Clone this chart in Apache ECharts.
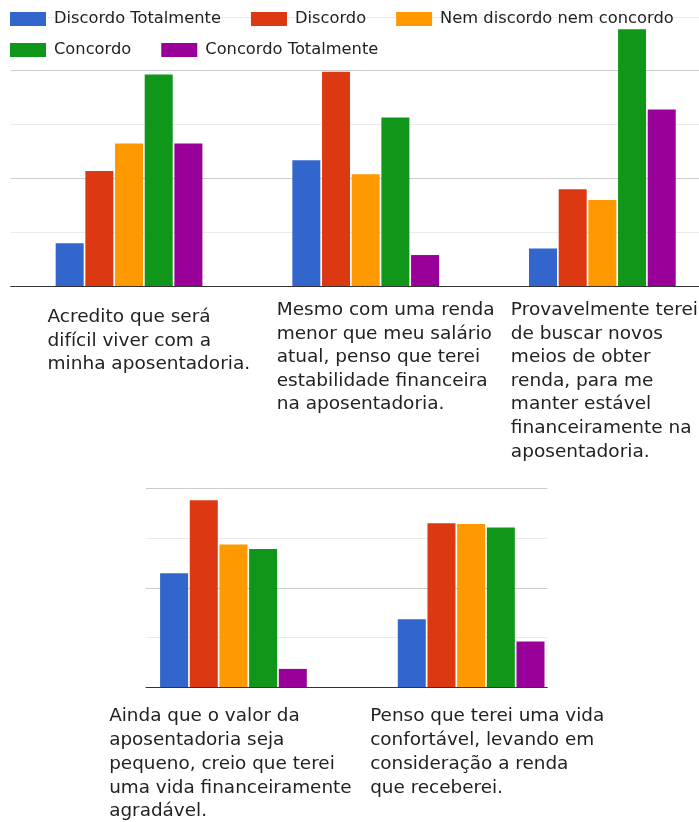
<!DOCTYPE html>
<html>
<head>
<meta charset="utf-8">
<script src="https://cdn.jsdelivr.net/npm/echarts@6/dist/echarts.min.js"></script>
<style>
  html, body { margin: 0; padding: 0; background: #fff; overflow: hidden; }
  #chart { width: 760px; height: 822px; }
</style>
</head>
<body>
<div id="chart"></div>
<script>
// ---- Data ----
var responseNames = ['Discordo Totalmente', 'Discordo', 'Nem discordo nem concordo', 'Concordo', 'Concordo Totalmente'];
var responseColors = ['#3366cc', '#dc3912', '#ff9900', '#109618', '#990099'];

var topStatements = [
  'Acredito que será\ndifícil viver com a\nminha aposentadoria.',
  'Mesmo com uma renda\nmenor que meu salário\natual, penso que terei\nestabilidade financeira\nna aposentadoria.',
  'Provavelmente terei\nde buscar novos\nmeios de obter\nrenda, para me\nmanter estável\nfinanceiramente na\naposentadoria.'
];
var bottomStatements = [
  'Ainda que o valor da\naposentadoria seja\npequeno, creio que terei\numa vida financeiramente\nagradável.',
  'Penso que terei uma vida\nconfortável, levando em\nconsideração a renda\nque receberei.'
];

// values per response, top chart (3 statements)
var topDiscordoTotalmente = [8.0, 23.4, 7.0];
var topDiscordo           = [21.4, 39.8, 18.0];
var topNem                = [26.5, 20.8, 16.0];
var topConcordo           = [39.3, 31.3, 47.7];
var topConcordoTotalmente = [26.5, 5.8, 32.8];

// values per response, bottom chart (2 statements)
var botDiscordoTotalmente = [22.9, 13.7];
var botDiscordo           = [37.6, 33.0];
var botNem                = [28.7, 32.8];
var botConcordo           = [27.8, 32.1];
var botConcordoTotalmente = [3.7, 9.2];

var topTicks = [0, 10, 20, 30, 40, 50];
var bottomTicks = [0, 10, 20, 30, 40];

// ---- Build ----
var topValues = [topDiscordoTotalmente, topDiscordo, topNem, topConcordo, topConcordoTotalmente];
var botValues = [botDiscordoTotalmente, botDiscordo, botNem, botConcordo, botConcordoTotalmente];

var FONT = 'DejaVu Sans';
var TXT = '#222';

function richFor(prefix, widths, fs, lh) {
  var r = {};
  widths.forEach(function (w, i) {
    r[prefix + i] = { width: w, align: 'left', fontSize: fs, lineHeight: lh, fontFamily: FONT, color: TXT };
  });
  return r;
}
function fmt(prefix) {
  return function (value, index) {
    return String(value).split('\n').map(function (l) { return '{' + prefix + index + '|' + l + '}'; }).join('\n');
  };
}

var topPads = [7, 0, 0];
var topAxisData = topStatements.map(function (s, i) {
  return { value: s, textStyle: { padding: [topPads[i], 0, 0, 0] } };
});

var series = [];
responseNames.forEach(function (name, i) {
  series.push({
    name: name, type: 'bar', xAxisIndex: 0, yAxisIndex: 0,
    data: topValues[i], barWidth: 28, barGap: '6%',
    itemStyle: { color: responseColors[i] }
  });
  series.push({
    name: name, type: 'bar', xAxisIndex: 1, yAxisIndex: 1,
    data: botValues[i], barWidth: 28, barGap: '6%',
    itemStyle: { color: responseColors[i] }
  });
});

var legendCommon = {
  icon: 'rect', itemWidth: 36, itemHeight: 14, itemGap: 30, padding: 0,
  textStyle: { fontFamily: FONT, fontSize: 16.3, color: TXT, padding: [0, 0, 0, 3] },
  selectedMode: false
};

var option = {
  animation: false,
  backgroundColor: '#fff',
  color: responseColors,
  legend: [
    Object.assign({}, legendCommon, { left: 10, top: 11, data: responseNames.slice(0, 3) }),
    Object.assign({}, legendCommon, { left: 10, top: 42, data: responseNames.slice(3) })
  ],
  grid: [
    { left: 10.7, top: 16.8, width: 710, height: 269.5 },
    { left: 114.6, top: 488.3, width: 475.4, height: 199 },
    { left: 146, top: 488.3, width: 401.3, height: 199 }
  ],
  xAxis: [
    {
      type: 'category', gridIndex: 0, data: topAxisData,
      axisLine: { lineStyle: { color: '#333', width: 1 } },
      axisTick: { show: false },
      axisLabel: {
        interval: 0, margin: 12, verticalAlign: 'top', align: 'center',
        formatter: fmt('t'),
        rich: richFor('t', [163, 178, 183], 18.5, 23.6)
      },
      z: 5
    },
    {
      type: 'category', gridIndex: 1, data: bottomStatements,
      axisLine: { show: false },
      axisTick: { show: false },
      axisLabel: {
        interval: 0, margin: 17.5, verticalAlign: 'top', align: 'center',
        formatter: fmt('b'),
        rich: richFor('b', [248.6, 202], 18.4, 23.75)
      }
    },
    {
      type: 'value', gridIndex: 2, min: 0, max: 1,
      axisLine: { show: true, onZero: false, lineStyle: { color: '#333', width: 1 } },
      axisTick: { show: false }, axisLabel: { show: false }, splitLine: { show: false },
      z: 5
    }
  ],
  yAxis: [
    {
      type: 'value', gridIndex: 0, min: topTicks[0], max: topTicks[topTicks.length - 1], interval: topTicks[1] - topTicks[0],
      axisLine: { show: false }, axisTick: { show: false }, axisLabel: { show: false },
      splitLine: { lineStyle: { color: ['#cccccc', '#ebebeb'], width: 1 } }
    },
    {
      type: 'value', gridIndex: 1, min: bottomTicks[0], max: bottomTicks[bottomTicks.length - 1], interval: bottomTicks[1] - bottomTicks[0],
      show: false, splitLine: { show: false }
    },
    {
      type: 'value', gridIndex: 2, min: bottomTicks[0], max: bottomTicks[bottomTicks.length - 1], interval: bottomTicks[1] - bottomTicks[0],
      axisLine: { show: false }, axisTick: { show: false }, axisLabel: { show: false },
      splitLine: { lineStyle: { color: ['#cccccc', '#ebebeb'], width: 1 } }
    }
  ],
  series: series
};

var chart = echarts.init(document.getElementById('chart'), null, { renderer: 'canvas' });
chart.setOption(option);
</script>
</body>
</html>
